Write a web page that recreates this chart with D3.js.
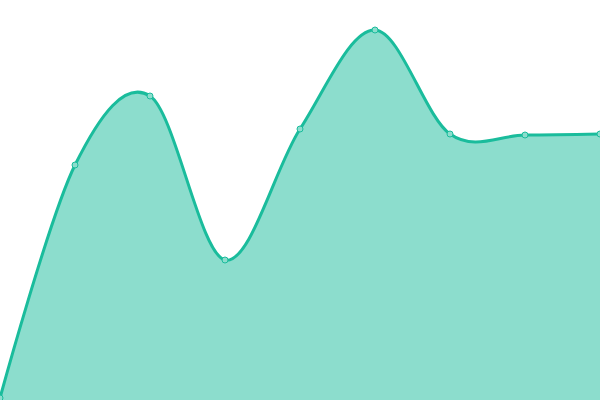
<!DOCTYPE html>
<html>
<head>
<meta charset="utf-8">
<script src="https://cdn.jsdelivr.net/npm/d3@7"></script>
<style>
  html, body { margin: 0; padding: 0; background: #fff; }
  svg { display: block; }
</style>
</head>
<body>
<div id="chart"></div>
<script>
// data
const categories = [0, 1, 2, 3, 4, 5, 6, 7, 8];
const values = [2, 235, 304, 140, 271, 370, 266, 265, 266];

const width = 600, height = 400;

const x = d3.scaleLinear()
    .domain([0, categories.length - 1])
    .range([0, width]);

const y = d3.scaleLinear()
    .domain([0, 400])
    .range([height, 0]);

const svg = d3.select('#chart')
    .append('svg')
    .attr('width', width)
    .attr('height', height);

const pts = categories.map((c, i) => [c, values[i]]);

const area = d3.area()
    .x(d => x(d[0]))
    .y0(height)
    .y1(d => y(d[1]))
    .curve(d3.curveCardinal);

const line = d3.line()
    .x(d => x(d[0]))
    .y(d => y(d[1]))
    .curve(d3.curveCardinal);

svg.append('path')
    .datum(pts)
    .attr('d', area)
    .attr('fill', '#1abc9c')
    .attr('fill-opacity', 0.5);

svg.append('path')
    .datum(pts)
    .attr('d', line)
    .attr('fill', 'none')
    .attr('stroke', '#1abc9c')
    .attr('stroke-width', 3);

svg.selectAll('circle')
    .data(pts)
    .enter()
    .append('circle')
    .attr('cx', d => x(d[0]))
    .attr('cy', d => y(d[1]))
    .attr('r', 3)
    .attr('fill', '#8cddcd')
    .attr('stroke', '#1abc9c')
    .attr('stroke-width', 1);
</script>
</body>
</html>
